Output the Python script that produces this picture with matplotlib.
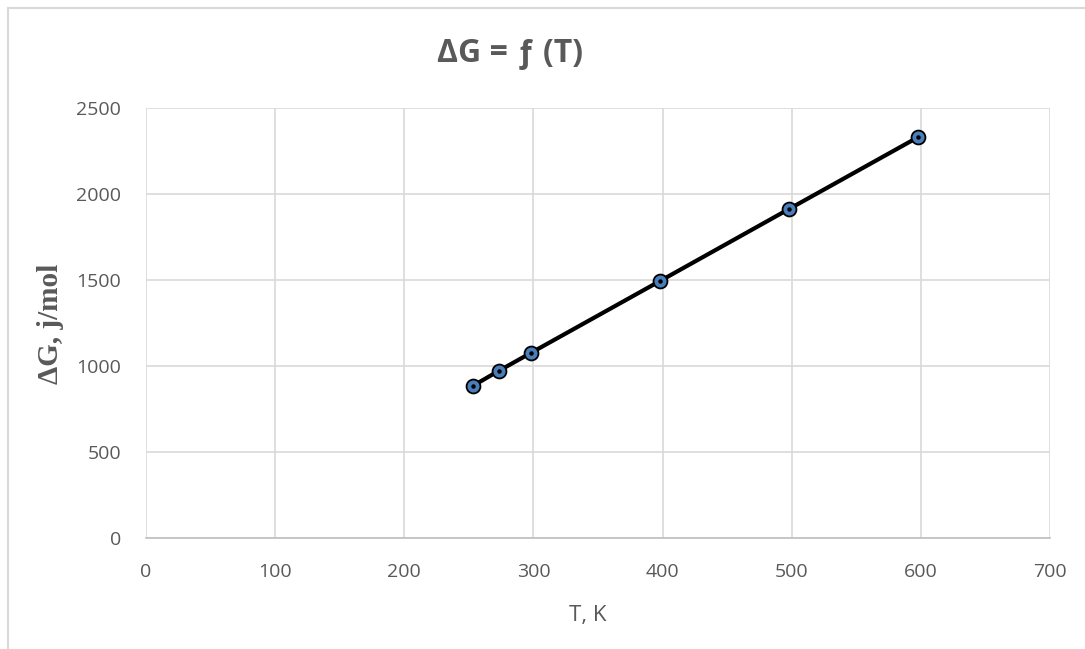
import matplotlib.pyplot as plt
from matplotlib.patches import Rectangle

T = [253, 273, 298, 398, 498, 598]
dG = [884, 971, 1076, 1494, 1913, 2331]
xticks = [0, 100, 200, 300, 400, 500, 600, 700]
yticks = [0, 500, 1000, 1500, 2000, 2500]

W, H = 1085, 649
fig = plt.figure(figsize=(W / 100, H / 100), dpi=100)
ax = fig.add_axes([146 / W, 1 - 538 / H, (1050 - 146) / W, (538 - 108) / H])

# рамка области диаграммы
fig.patches.append(Rectangle((8 / W, -0.5), 2, 1.5 - 8 / H, transform=fig.transFigure,
                             fill=False, edgecolor='#d9d9d9', linewidth=1.5))

ax.plot(T, dG, '-', color='black', linewidth=3, zorder=3)
ax.plot(T, dG, 'o', markersize=10, markerfacecolor='#4a7ebb',
        markeredgecolor='black', markeredgewidth=1.3, zorder=4)
ax.plot(T, dG, 'o', markersize=2.2, color='black', zorder=5)

ax.set_xlim(0, 700)
ax.set_ylim(0, 2500)
ax.set_xticks(xticks)
ax.set_yticks(yticks)
ax.grid(True, color='#d9d9d9', linewidth=1.2)
ax.set_axisbelow(True)
for s in ['top', 'right', 'left']:
    ax.spines[s].set_visible(False)
ax.spines['bottom'].set_color('#bfbfbf')
ax.spines['bottom'].set_linewidth(1.2)
ax.tick_params(length=0, labelsize=14, labelcolor='#595959', pad=18)
for lab in ax.get_xticklabels() + ax.get_yticklabels():
    lab.set_family('Open Sans')

fig.text(510 / W, 1 - 54 / H, 'ΔG = ƒ (T)', ha='center', va='center',
         fontsize=23, fontweight='bold', color='#595959', family='Open Sans')
fig.text(588 / W, 1 - 615 / H, 'T, K', ha='center', va='center',
         fontsize=16, color='#595959', family='Open Sans')
fig.text(50 / W, 1 - 324 / H, 'ΔG, j/mol', ha='center', va='center', rotation=90,
         fontsize=21, fontweight='bold', color='#595959', family='Liberation Serif')

fig.savefig('out.png', dpi=100)
